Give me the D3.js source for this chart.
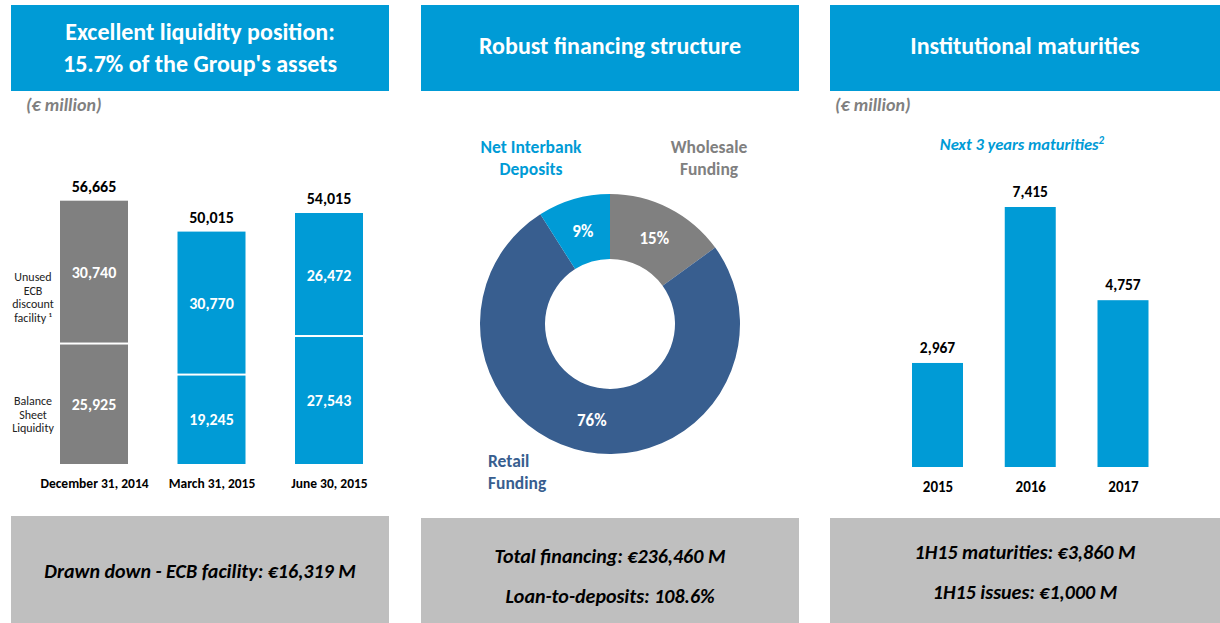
<!DOCTYPE html>
<html>
<head>
<meta charset="utf-8">
<script src="https://cdn.jsdelivr.net/npm/d3@7"></script>
<style>
  body { margin: 0; background: #fff; }
  svg text { font-family: Carlito, Calibri, Lato, sans-serif; }
</style>
</head>
<body>
<div id="chart"></div>
<script>
// liquidity panel
const liqDates = ['December 31, 2014', 'March 31, 2015', 'June 30, 2015'];
const balanceSheet = [25925, 19245, 27543];
const unusedEcb = [30740, 30770, 26472];
const liqTotals = [56665, 50015, 54015];

// financing panel
const fundingNames = ['Wholesale Funding', 'Retail Funding', 'Net Interbank Deposits'];
const fundingShares = [15, 76, 9];

// maturities panel
const maturityYears = ['2015', '2016', '2017'];
const maturities = [2967, 7415, 4757];

const blue = '#009bd6';
const grey = '#808080';
const navy = '#385e8f';
const boxGrey = '#bfbfbf';
const fmt = d3.format(',');

const svg = d3.select('#chart').append('svg')
    .attr('width', 1220)
    .attr('height', 623);

// header + footer boxes
const panels = [
    { x: 11, w: 378, title: ['Excellent liquidity position:', "15.7% of the Group's assets"],
      foot: ['Drawn down - ECB facility: €16,319 M'], footTop: 516, f0: 578 },
    { x: 421, w: 378, title: ['Robust financing structure'],
      foot: ['Total financing: €236,460 M', 'Loan-to-deposits: 108.6%'], footTop: 518, f0: 563 },
    { x: 830, w: 390, title: ['Institutional maturities'],
      foot: ['1H15 maturities: €3,860 M', '1H15 issues: €1,000 M'], footTop: 518, f0: 559 }
];

panels.forEach(function (p) {
    svg.append('rect')
        .attr('x', p.x).attr('y', 5)
        .attr('width', p.w).attr('height', 86)
        .attr('fill', blue);
    const cx = p.x + p.w / 2;
    const t0 = p.title.length === 1 ? 54 : 40;
    p.title.forEach(function (line, i) {
        svg.append('text')
            .attr('x', cx).attr('y', t0 + i * 32)
            .attr('text-anchor', 'middle')
            .attr('fill', '#fff')
            .attr('font-size', 24)
            .attr('font-weight', 'bold')
            .text(line);
    });

    svg.append('rect')
        .attr('x', p.x).attr('y', p.footTop)
        .attr('width', p.w).attr('height', 623 - p.footTop)
        .attr('fill', boxGrey);
    p.foot.forEach(function (line, i) {
        svg.append('text')
            .attr('x', cx).attr('y', p.f0 + i * 40)
            .attr('text-anchor', 'middle')
            .attr('fill', '#000')
            .attr('font-size', 20)
            .attr('font-weight', 'bold')
            .attr('font-style', 'italic')
            .text(line);
    });
});

// (€ million) notes
[26, 835].forEach(function (x) {
    svg.append('text')
        .attr('x', x).attr('y', 111)
        .attr('fill', grey)
        .attr('font-size', 18)
        .attr('font-weight', 'bold')
        .attr('font-style', 'italic')
        .text('(€ million)');
});

// ---- liquidity stacked bars
const lx = d3.scalePoint().domain(liqDates).range([94, 329]);
const ly = d3.scaleLinear().domain([0, 60000]).range([464, 185.2]);
const lbw = 68;
const liqColors = [grey, blue, blue];

const liqG = svg.append('g').attr('class', 'liquidity');
liqDates.forEach(function (d, i) {
    const x0 = lx(d) - lbw / 2;
    const split = ly(balanceSheet[i]);
    const top = ly(balanceSheet[i] + unusedEcb[i]);
    // lower segment
    liqG.append('rect')
        .attr('x', x0).attr('y', split + 1)
        .attr('width', lbw).attr('height', ly(0) - split - 1)
        .attr('fill', liqColors[i]);
    // upper segment
    liqG.append('rect')
        .attr('x', x0).attr('y', top)
        .attr('width', lbw).attr('height', split - top - 1)
        .attr('fill', liqColors[i]);

    liqG.append('text')
        .attr('x', lx(d)).attr('y', (split + ly(0)) / 2 + 6)
        .attr('text-anchor', 'middle').attr('fill', '#fff')
        .attr('font-size', 16).attr('font-weight', 'bold')
        .text(fmt(balanceSheet[i]));
    liqG.append('text')
        .attr('x', lx(d)).attr('y', (split + top) / 2 + 6)
        .attr('text-anchor', 'middle').attr('fill', '#fff')
        .attr('font-size', 16).attr('font-weight', 'bold')
        .text(fmt(unusedEcb[i]));
    liqG.append('text')
        .attr('x', lx(d)).attr('y', ly(liqTotals[i]) - 9)
        .attr('text-anchor', 'middle').attr('fill', '#000')
        .attr('font-size', 16).attr('font-weight', 'bold')
        .text(fmt(liqTotals[i]));
});

liqG.append('g')
    .attr('transform', 'translate(0,' + ly(0) + ')')
    .call(d3.axisBottom(lx).tickSize(0).tickPadding(14))
    .call(g => g.select('.domain').remove())
    .call(g => g.selectAll('text')
        .attr('fill', '#000')
        .attr('font-size', 13.5)
        .attr('font-weight', 'bold'));

// side labels
const sideLabels = [
    { lines: ['Unused', 'ECB', 'discount', 'facility ¹'], y: 281 },
    { lines: ['Balance', 'Sheet', 'Liquidity'], y: 405 }
];
sideLabels.forEach(function (s) {
    s.lines.forEach(function (line, i) {
        svg.append('text')
            .attr('x', 33).attr('y', s.y + i * 13.5)
            .attr('text-anchor', 'middle')
            .attr('fill', '#222')
            .attr('font-size', 12)
            .text(line);
    });
});

// ---- financing donut
const pie = d3.pie().sort(null).value(d => d);
const arc = d3.arc().innerRadius(65).outerRadius(130);
const labelArc = d3.arc().innerRadius(97.5).outerRadius(97.5);
const fundColors = [grey, navy, blue];

const donut = svg.append('g').attr('transform', 'translate(610,324)');
const arcs = pie(fundingShares);
donut.selectAll('path')
    .data(arcs)
    .enter()
    .append('path')
    .attr('d', arc)
    .attr('fill', (d, i) => fundColors[i]);
donut.selectAll('text.pct')
    .data(arcs)
    .enter()
    .append('text')
    .attr('class', 'pct')
    .attr('transform', d => 'translate(' + labelArc.centroid(d) + ')')
    .attr('dy', '0.38em')
    .attr('text-anchor', 'middle')
    .attr('fill', '#fff')
    .attr('font-size', 17)
    .attr('font-weight', 'bold')
    .text(d => d.data + '%');

const outerLabels = [
    { lines: ['Wholesale', 'Funding'], x: 709, y: 153, anchor: 'middle', color: grey },
    { lines: ['Retail', 'Funding'], x: 488, y: 467, anchor: 'start', color: navy },
    { lines: ['Net Interbank', 'Deposits'], x: 531, y: 153, anchor: 'middle', color: blue }
];
outerLabels.forEach(function (o) {
    o.lines.forEach(function (line, i) {
        svg.append('text')
            .attr('x', o.x).attr('y', o.y + i * 22)
            .attr('text-anchor', o.anchor)
            .attr('fill', o.color)
            .attr('font-size', 17.5)
            .attr('font-weight', 'bold')
            .text(line);
    });
});

// ---- maturities bars
const mx = d3.scalePoint().domain(maturityYears).range([937.5, 1123]);
const my = d3.scaleLinear().domain([0, 7415]).range([467, 207]);
const mbw = 51;

const matG = svg.append('g').attr('class', 'maturities');
matG.selectAll('rect')
    .data(maturities)
    .enter()
    .append('rect')
    .attr('x', (d, i) => mx(maturityYears[i]) - mbw / 2)
    .attr('y', d => my(d))
    .attr('width', mbw)
    .attr('height', d => my(0) - my(d))
    .attr('fill', blue);
matG.selectAll('text.val')
    .data(maturities)
    .enter()
    .append('text')
    .attr('class', 'val')
    .attr('x', (d, i) => mx(maturityYears[i]))
    .attr('y', d => my(d) - 10)
    .attr('text-anchor', 'middle')
    .attr('fill', '#000')
    .attr('font-size', 15.5)
    .attr('font-weight', 'bold')
    .text(d => fmt(d));

matG.append('g')
    .attr('transform', 'translate(0,' + my(0) + ')')
    .call(d3.axisBottom(mx).tickSize(0).tickPadding(14))
    .call(g => g.select('.domain').remove())
    .call(g => g.selectAll('text')
        .attr('fill', '#000')
        .attr('font-size', 15)
        .attr('font-weight', 'bold'));

const sub = svg.append('text')
    .attr('x', 1022).attr('y', 150)
    .attr('text-anchor', 'middle')
    .attr('fill', blue)
    .attr('font-size', 16.5)
    .attr('font-weight', 'bold')
    .attr('font-style', 'italic');
sub.append('tspan').text('Next 3 years maturities');
sub.append('tspan').attr('dy', -6).attr('font-size', 11).text('2');
</script>
</body>
</html>
